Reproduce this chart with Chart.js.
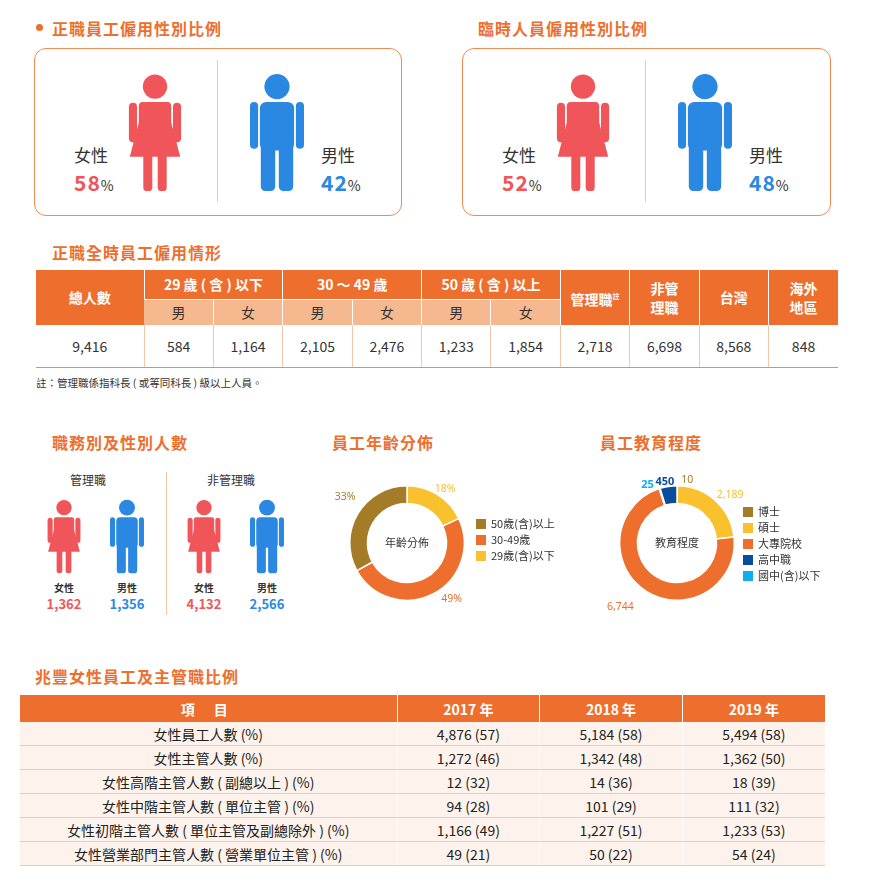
<!DOCTYPE html>
<html><head><meta charset="utf-8">
<script src="https://cdn.jsdelivr.net/npm/chart.js@4"></script>
<style>
body{margin:0;width:873px;height:885px;position:relative;background:#fff;font-family:"Noto Sans CJK TC","Noto Sans",sans-serif;color:#333;overflow:hidden}
.abs{position:absolute}
.ttl{position:absolute;color:#EE6F2D;font-size:16px;font-weight:bold;letter-spacing:1px;line-height:20px}
.box{position:absolute;border:1.5px solid #F08A50;border-radius:12px;height:166px;top:48px}
.lbl{position:absolute;font-size:17px;color:#333;line-height:20px}
.pct{position:absolute;font-size:21px;font-weight:bold;line-height:22px;letter-spacing:1px}
.pct small{font-size:14px;color:#333;font-weight:normal}
table{border-collapse:collapse;table-layout:fixed}
#t1{position:absolute;left:36px;top:270px;width:802px;font-size:14px}
#t1 th{background:#EE6F2D;color:#fff;font-weight:bold;border-left:1px solid #fff;padding:0;line-height:19px}
#t1 th.sub{background:#F6B98F;color:#333;font-weight:normal;border-top:1px solid #fff;height:25px}
#t1 td{text-align:center;height:42px;padding:0;border-left:1px solid #F6C7A8;border-bottom:1.5px solid #F08A50;color:#333}
#t1 td:first-child,#t1 th:first-child{border-left:none}
#t2{position:absolute;left:20px;top:695px;width:805px;font-size:14px}
#t2 th{background:#EE6F2D;color:#fff;height:27px;border-left:1px solid #fff;font-weight:bold;padding:0}
#t2 td{background:#FDF3EC;text-align:center;height:23px;padding:0;border-left:1px solid #fff;border-bottom:1.5px solid #F6C7A8;color:#222}
#t2 th:first-child,#t2 td:first-child{border-left:none}
.leg{position:absolute;font-size:11px;color:#333;line-height:16px}
.leg span{display:inline-block;width:10px;height:10px;margin-right:5px;vertical-align:-1px}
.sm{position:absolute;font-size:10px;font-weight:bold;text-align:center;width:40px;line-height:12px}
.smn{position:absolute;font-size:13px;font-weight:bold;text-align:center;width:50px;line-height:15px}
</style></head><body>

<div class="abs" style="left:36px;top:24px;width:7px;height:7px;border-radius:50%;background:#EE6F2D"></div>
<div class="ttl" style="left:52px;top:18px">正職員工僱用性別比例</div>
<div class="ttl" style="left:478px;top:18px">臨時人員僱用性別比例</div>
<div class="box" style="left:34px;width:366px"></div>
<div class="box" style="left:462px;width:367px"></div>
<div class="abs" style="left:217px;top:60px;width:1px;height:142px;background:#F6C7A8"></div>
<div class="abs" style="left:645px;top:60px;width:1px;height:142px;background:#F6C7A8"></div>

<div class="ttl" style="left:52px;top:242px">正職全時員工僱用情形</div>
<table id="t1">
<colgroup><col style="width:108px"><col span="10" style="width:69.4px"></colgroup>
<tr><th rowspan="2" style="height:29px">總人數</th><th colspan="2" style="height:29px">29 歲 ( 含 ) 以下</th><th colspan="2">30 ～ 49 歲</th><th colspan="2">50 歲 ( 含 ) 以上</th><th rowspan="2">管理職<sup style="font-size:7px">註</sup></th><th rowspan="2">非管<br>理職</th><th rowspan="2">台灣</th><th rowspan="2">海外<br>地區</th></tr>
<tr><th class="sub">男</th><th class="sub">女</th><th class="sub">男</th><th class="sub">女</th><th class="sub">男</th><th class="sub">女</th></tr>
<tr id="t1row"></tr>
</table>
<div class="abs" style="left:36px;top:375px;font-size:10.5px;color:#333">註：管理職係指科長 ( 或等同科長 ) 級以上人員。</div>

<div class="ttl" style="left:52px;top:432px">職務別及性別人數</div>
<div class="ttl" style="left:332px;top:432px">員工年齡分佈</div>
<div class="ttl" style="left:600px;top:432px">員工教育程度</div>
<div class="abs" style="left:70px;top:471px;font-size:12px">管理職</div>
<div class="abs" style="left:207px;top:471px;font-size:12px">非管理職</div>
<div class="abs" style="left:166px;top:472px;width:1px;height:143px;background:#F6C7A8"></div>

<div class="abs" style="left:332px;top:468px;width:150px;height:150px"><canvas id="age"></canvas></div>
<div class="abs" style="left:602px;top:468px;width:150px;height:150px"><canvas id="edu"></canvas></div>
<div class="leg" id="legAge" style="left:476px;top:515px"></div>
<div class="leg" id="legEdu" style="left:743px;top:503px"></div>

<div class="ttl" style="left:35px;top:666px">兆豐女性員工及主管職比例</div>
<table id="t2"><colgroup><col style="width:377px"><col span="3"></colgroup><tr><th style="letter-spacing:8px">項 目</th><th>2017 年</th><th>2018 年</th><th>2019 年</th></tr></table>

<script>
// gender ratio (%)
const fullTimeRatio = [58, 42];
const tempRatio = [52, 48];
// full-time employment table
const t1Values = ['9,416', '584', '1,164', '2,105', '2,476', '1,233', '1,854', '2,718', '6,698', '8,568', '848'];
// headcount by job type & gender
const jobTypes = ['管理職', '非管理職'];
const jobFemale = ['1,362', '4,132'];
const jobMale = ['1,356', '2,566'];
// age distribution
const ageLabels = ['29歲(含)以下', '30-49歲', '50歲(含)以上'];
const ageValues = [18, 49, 33];
const ageColors = ['#F9C12E', '#EE6F2D', '#A47C27'];
// education
const eduLabels = ['博士', '碩士', '大專院校', '國中(含)以下', '高中職'];
const eduValues = [10, 2189, 6744, 25, 450];
const eduColors = ['#A47C27', '#F9C12E', '#EE6F2D', '#10AEEF', '#0A4D9E'];
const eduLegendOrder = [0, 1, 2, 4, 3];
// female staff table
const t2Items = ['女性員工人數 (%)', '女性主管人數 (%)', '女性高階主管人數 ( 副總以上 ) (%)', '女性中階主管人數 ( 單位主管 ) (%)', '女性初階主管人數 ( 單位主管及副總除外 ) (%)', '女性營業部門主管人數 ( 營業單位主管 ) (%)'];
const t2_2017 = ['4,876 (57)', '1,272 (46)', '12 (32)', '94 (28)', '1,166 (49)', '49 (21)'];
const t2_2018 = ['5,184 (58)', '1,342 (48)', '14 (36)', '101 (29)', '1,227 (51)', '50 (22)'];
const t2_2019 = ['5,494 (58)', '1,362 (50)', '18 (39)', '111 (32)', '1,233 (53)', '54 (24)'];

const RED = '#F0555A', BLUE = '#2A88E2';

function female(w, h) {
    return `<svg width="${w}" height="${h}" viewBox="0 0 60 130"><g fill="${RED}">
<circle cx="30" cy="14" r="13.5"/><rect x="1" y="32" width="9" height="44" rx="4.5"/><rect x="50" y="32" width="9" height="44" rx="4.5"/>
<path d="M16 31 H44 Q48 31 48 36 L48 54 L58 92 H2 L12 54 L12 36 Q12 31 16 31Z"/>
<rect x="17" y="88" width="10" height="42" rx="4"/><rect x="33" y="88" width="10" height="42" rx="4"/></g></svg>`;
}
function male(w, h) {
    return `<svg width="${w}" height="${h}" viewBox="0 0 60 130"><g fill="${BLUE}">
<circle cx="30" cy="14" r="14"/><rect x="11" y="31" width="38" height="54" rx="7"/>
<rect x="0" y="31" width="9" height="52" rx="4.5"/><rect x="51" y="31" width="9" height="52" rx="4.5"/>
<rect x="12" y="78" width="16" height="52" rx="5"/><rect x="32" y="78" width="16" height="52" rx="5"/></g></svg>`;
}
function addHtml(html) { document.body.insertAdjacentHTML('beforeend', html); }
function icon(svg, x, y) { addHtml(`<div class="abs" style="left:${x}px;top:${y}px;line-height:0">${svg}</div>`); }

// top gender boxes
[[0, fullTimeRatio], [428, tempRatio]].forEach(([dx, r]) => {
    icon(female(54, 125), 128 + dx, 70);
    icon(male(54, 125), 250 + dx, 70);
    addHtml(`<div class="lbl" style="left:${74 + dx}px;top:145px">女性</div>`);
    addHtml(`<div class="pct" style="left:${74 + dx}px;top:171px;color:${RED}">${r[0]}<small>%</small></div>`);
    addHtml(`<div class="lbl" style="left:${321 + dx}px;top:145px">男性</div>`);
    addHtml(`<div class="pct" style="left:${321 + dx}px;top:171px;color:${BLUE}">${r[1]}<small>%</small></div>`);
});

document.getElementById('t1row').innerHTML = t1Values.map(v => `<td>${v}</td>`).join('');

// job type icons
jobTypes.forEach((j, i) => {
    const dx = i * 140;
    icon(female(34, 85), 47 + dx, 494);
    icon(male(34, 85), 110 + dx, 494);
    addHtml(`<div class="sm" style="left:${44 + dx}px;top:582px">女性</div>`);
    addHtml(`<div class="sm" style="left:${107 + dx}px;top:582px">男性</div>`);
    addHtml(`<div class="smn" style="left:${39 + dx}px;top:596px;color:${RED}">${jobFemale[i]}</div>`);
    addHtml(`<div class="smn" style="left:${102 + dx}px;top:596px;color:${BLUE}">${jobMale[i]}</div>`);
});

let rows = '';
t2Items.forEach((it, i) => { rows += `<tr><td>${it}</td><td>${t2_2017[i]}</td><td>${t2_2018[i]}</td><td>${t2_2019[i]}</td></tr>`; });
document.getElementById('t2').insertAdjacentHTML('beforeend', rows);

document.getElementById('legAge').innerHTML = [2, 1, 0].map(i => `<div><span style="background:${ageColors[i]}"></span>${ageLabels[i]}</div>`).join('');
document.getElementById('legEdu').innerHTML = eduLegendOrder.map(i => `<div><span style="background:${eduColors[i]}"></span>${eduLabels[i]}</div>`).join('');

// outside labels + center text
const arcLabels = {
    id: 'arcLabels',
    afterDatasetsDraw(chart, args, opts) {
        const ctx = chart.ctx;
        const meta = chart.getDatasetMeta(0);
        ctx.save();
        ctx.textAlign = 'center';
        ctx.textBaseline = 'middle';
        meta.data.forEach((arc, i) => {
            const p = arc.getProps(['x', 'y', 'startAngle', 'endAngle', 'outerRadius']);
            const a = (p.startAngle + p.endAngle) / 2;
            const off = opts.offsets[i] || [0, 0];
            const r = p.outerRadius + 10;
            ctx.fillStyle = opts.colors[i];
            ctx.font = opts.bold[i] ? 'bold 11px "Noto Sans", sans-serif' : '10.5px "Noto Sans", sans-serif';
            ctx.fillText(opts.texts[i], p.x + Math.cos(a) * r + off[0], p.y + Math.sin(a) * r + off[1]);
        });
        ctx.fillStyle = '#333';
        ctx.font = '11px "Noto Sans CJK TC", sans-serif';
        ctx.fillText(opts.center, meta.data[0].x, meta.data[0].y);
        ctx.restore();
    }
};

function donut(id, labels, values, colors, labelOpts) {
    new Chart(document.getElementById(id), {
        type: 'doughnut',
        data: { labels: labels, datasets: [{ data: values, backgroundColor: colors, borderColor: '#fff', borderWidth: 1.5 }] },
        options: {
            responsive: true, maintainAspectRatio: false, animation: false,
            cutout: '69%',
            layout: { padding: 17 },
            plugins: { legend: { display: false }, tooltip: { enabled: false }, arcLabels: labelOpts }
        },
        plugins: [arcLabels]
    });
}

donut('age', ageLabels, ageValues, ageColors, {
    texts: ageValues.map(v => v + '%'), colors: ageColors, bold: [false, false, false],
    offsets: [[2, 3], [14, -4], [-4, -12]], center: '年齡分佈'
});
donut('edu', eduLabels, eduValues, eduColors, {
    texts: eduValues.map(v => v.toLocaleString('en-US')), colors: eduColors, bold: [false, false, false, true, true],
    offsets: [[10, 4], [8, 2], [-20, 8], [-9, 6], [-2, 5]], center: '教育程度'
});
</script>
</body></html>
